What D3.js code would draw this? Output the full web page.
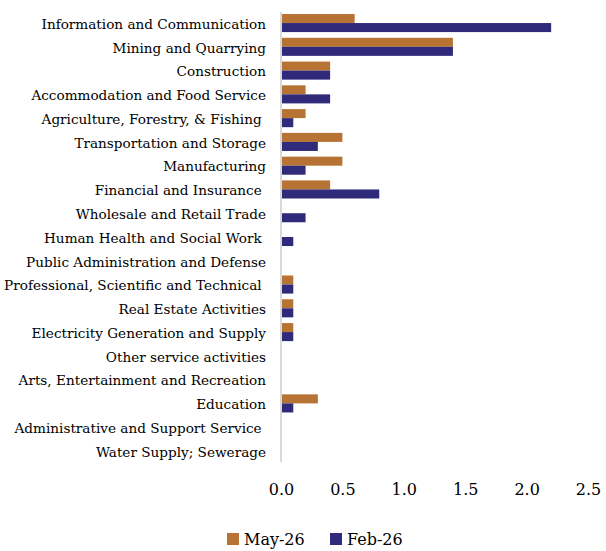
<!DOCTYPE html>
<html>
<head>
<meta charset="utf-8">
<script src="https://cdn.jsdelivr.net/npm/d3@7"></script>
<style>
  html, body { margin: 0; padding: 0; background: #fff; }
  svg { display: block; font-family: "DejaVu Serif", serif; }
  text { white-space: pre; }
</style>
</head>
<body>
<svg id="chart" width="606" height="551"></svg>
<script>
// Sectors, top to bottom
const categories = [
  "Information and Communication",
  "Mining and Quarrying",
  "Construction",
  "Accommodation and Food Service",
  "Agriculture, Forestry, & Fishing ",
  "Transportation and Storage",
  "Manufacturing",
  "Financial and Insurance ",
  "Wholesale and Retail Trade",
  "Human Health and Social Work ",
  "Public Administration and Defense",
  "Professional, Scientific and Technical ",
  "Real Estate Activities",
  "Electricity Generation and Supply",
  "Other service activities",
  "Arts, Entertainment and Recreation",
  "Education",
  "Administrative and Support Service ",
  "Water Supply; Sewerage"
];
const seriesNames = ["May-26", "Feb-26"];
const may26 = [0.6, 1.4, 0.4, 0.2, 0.2, 0.5, 0.5, 0.4, 0, 0, 0, 0.1, 0.1, 0.1, 0, 0, 0.3, 0, 0];
const feb26 = [2.2, 1.4, 0.4, 0.4, 0.1, 0.3, 0.2, 0.8, 0.2, 0.1, 0, 0.1, 0.1, 0.1, 0, 0, 0.1, 0, 0];
const xTicks = [0, 0.5, 1.0, 1.5, 2.0, 2.5];
const colors = ["#b77334", "#302a7a"];

const svg = d3.select("#chart");

const x = d3.scaleLinear().domain([0, 2.5]).range([281, 588]);
const y = d3.scaleBand().domain(categories).range([12, 462])
  .paddingInner(0.24).paddingOuter(0.085);
const ySub = d3.scaleBand().domain(seriesNames).range([0, y.bandwidth()]);

const seriesData = [may26, feb26];

// bars
seriesNames.forEach((name, si) => {
  svg.append("g")
    .selectAll("rect")
    .data(categories.map((c, i) => ({ c, v: seriesData[si][i] })))
    .join("rect")
    .attr("x", x(0))
    .attr("y", d => y(d.c) + ySub(name))
    .attr("width", d => x(d.v) - x(0))
    .attr("height", ySub.bandwidth())
    .attr("fill", colors[si]);
});

// category axis line
svg.append("line")
  .attr("x1", x(0)).attr("x2", x(0))
  .attr("y1", 12).attr("y2", 462)
  .attr("stroke", "#d9d9d9").attr("stroke-width", 2);

// category labels
svg.append("g")
  .selectAll("text")
  .data(categories)
  .join("text")
  .attr("x", 266)
  .attr("y", d => y(d) + y.bandwidth() / 2 + 1)
  .attr("dy", "0.35em")
  .attr("text-anchor", "end")
  .attr("font-size", 13.6)
  .attr("fill", "#000")
  .text(d => d);

// value axis labels
const xAxis = d3.axisBottom(x).tickValues(xTicks).tickFormat(d3.format(".1f")).tickSize(0).tickPadding(0);
const gx = svg.append("g").attr("transform", "translate(0,484)").call(xAxis);
gx.select(".domain").remove();
gx.selectAll("text").attr("font-size", 16).attr("font-family", "DejaVu Serif, serif").attr("fill", "#000");

// legend
const legendItems = [
  { name: "May-26", color: colors[0], x: 227 },
  { name: "Feb-26", color: colors[1], x: 330 }
];
const lg = svg.append("g");
legendItems.forEach(it => {
  lg.append("rect").attr("x", it.x).attr("y", 533).attr("width", 12).attr("height", 12).attr("fill", it.color);
  lg.append("text").attr("x", it.x + 17).attr("y", 539).attr("dy", "0.35em")
    .attr("font-size", 16).attr("fill", "#000").text(it.name);
});
</script>
</body>
</html>
